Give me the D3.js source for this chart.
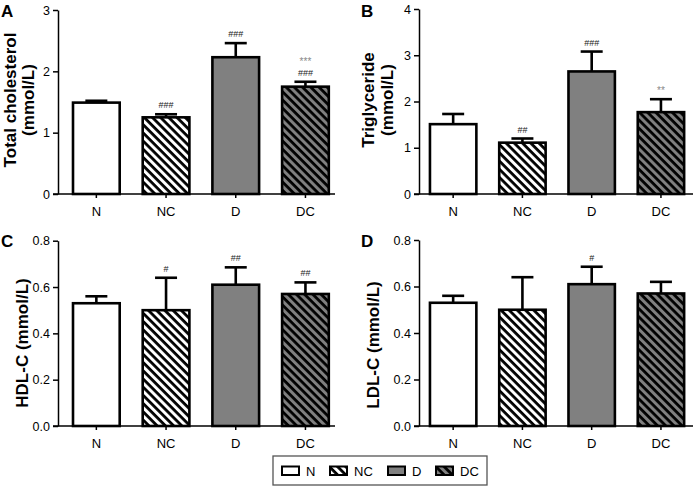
<!DOCTYPE html>
<html>
<head>
<meta charset="utf-8">
<script src="https://cdn.jsdelivr.net/npm/d3@7"></script>
<style>
  body { margin: 0; background: #fff; }
  svg { display: block; font-family: "Liberation Sans", Arial, sans-serif; }
</style>
</head>
<body>
<svg id="chart" width="698" height="486"></svg>
<script>
// ---------- data ----------
const categories = ["N", "NC", "D", "DC"];

const tcMean = [1.49, 1.25, 2.23, 1.75];
const tcErr  = [0.03, 0.05, 0.23, 0.08];
const tcHash = ["", "###", "###", "###"];
const tcStar = ["", "", "", "***"];
const tcTicks = [0, 1, 2, 3];

const tgMean = [1.51, 1.11, 2.65, 1.77];
const tgErr  = [0.22, 0.09, 0.43, 0.28];
const tgHash = ["", "##", "###", ""];
const tgStar = ["", "", "", "**"];
const tgTicks = [0, 1, 2, 3, 4];

const hdlMean = [0.53, 0.50, 0.61, 0.57];
const hdlErr  = [0.03, 0.14, 0.075, 0.05];
const hdlHash = ["", "#", "##", "##"];
const hdlStar = ["", "", "", ""];
const hdlTicks = [0, 0.2, 0.4, 0.6, 0.8];

const ldlMean = [0.53, 0.50, 0.61, 0.57];
const ldlErr  = [0.03, 0.14, 0.075, 0.05];
const ldlHash = ["", "", "#", ""];
const ldlStar = ["", "", "", ""];
const ldlTicks = [0, 0.2, 0.4, 0.6, 0.8];

// ---------- drawing ----------
const svg = d3.select("#chart");
const defs = svg.append("defs");

function hatch(id, bg) {
  const p = defs.append("pattern")
    .attr("id", id).attr("patternUnits", "userSpaceOnUse")
    .attr("width", 5.8).attr("height", 5.8)
    .attr("patternTransform", "rotate(-45)");
  p.append("rect").attr("width", 5.8).attr("height", 5.8).attr("fill", bg);
  p.append("line").attr("x1", 1.5).attr("y1", 0).attr("x2", 1.5).attr("y2", 5.8)
    .attr("stroke", "#000").attr("stroke-width", 2.8);
}
hatch("hatchW", "#fff");
hatch("hatchG", "#808080");

const fills = { N: "#ffffff", NC: "url(#hatchW)", D: "#808080", DC: "url(#hatchG)" };

const panels = [
  { letter: "A", title: ["Total cholesterol", "(mmol/L)"], mean: tcMean, err: tcErr, hash: tcHash, star: tcStar,
    ticks: tcTicks, fmt: d3.format("d"), max: 3, axisX: 58, yTop: 10, yBot: 194, xEnd: 335,
    band: [50, 351.8], letterX: 1, letterY: 17, titleX: [10, 28], titleY: 100 },
  { letter: "B", title: ["Triglyceride", "(mmol/L)"], mean: tgMean, err: tgErr, hash: tgHash, star: tgStar,
    ticks: tgTicks, fmt: d3.format("d"), max: 4, axisX: 419, yTop: 9, yBot: 194, xEnd: 693,
    band: [407.1, 707], letterX: 361, letterY: 17, titleX: [368, 387], titleY: 100 },
  { letter: "C", title: ["HDL-C (mmol/L)"], mean: hdlMean, err: hdlErr, hash: hdlHash, star: hdlStar,
    ticks: hdlTicks, fmt: d3.format(".1f"), max: 0.8, axisX: 58, yTop: 240.7, yBot: 426, xEnd: 335,
    band: [50, 351.8], letterX: 1, letterY: 247, titleX: [22], titleY: 343 },
  { letter: "D", title: ["LDL-C (mmol/L)"], mean: ldlMean, err: ldlErr, hash: ldlHash, star: ldlStar,
    ticks: ldlTicks, fmt: d3.format(".1f"), max: 0.8, axisX: 419, yTop: 240, yBot: 426, xEnd: 693,
    band: [407.1, 707], letterX: 361, letterY: 247, titleX: [373], titleY: 345 }
];

panels.forEach(p => {
  const g = svg.append("g");
  const y = d3.scaleLinear().domain([0, p.max]).range([p.yBot, p.yTop]);
  const x = d3.scaleBand().domain(categories).range(p.band).paddingInner(0.33).paddingOuter(0.33);

  // y axis
  const ya = g.append("g").attr("transform", `translate(${p.axisX},0)`)
    .call(d3.axisLeft(y).tickValues(p.ticks).tickFormat(p.fmt).tickSize(5).tickSizeOuter(0).tickPadding(3));
  ya.select(".domain").attr("stroke", "#000").attr("stroke-width", 1.5);
  ya.selectAll(".tick line").attr("stroke", "#000").attr("stroke-width", 1.5);
  ya.selectAll(".tick text").attr("font-size", 12.5).attr("fill", "#000")
    .attr("font-family", "Liberation Sans, Arial, sans-serif");

  // x axis
  const xa = g.append("g").attr("transform", `translate(0,${p.yBot})`)
    .call(d3.axisBottom(x).tickSize(4).tickPadding(9));
  xa.select(".domain").remove();
  xa.selectAll(".tick line").attr("stroke", "#000").attr("stroke-width", 1.5);
  xa.selectAll(".tick text").attr("font-size", 13).attr("fill", "#000")
    .attr("font-family", "Liberation Sans, Arial, sans-serif");
  g.append("line").attr("x1", p.axisX - 5).attr("x2", p.xEnd)
    .attr("y1", p.yBot).attr("y2", p.yBot).attr("stroke", "#000").attr("stroke-width", 1.5);

  // bars
  const rows = categories.map((c, i) => ({ c, m: p.mean[i], e: p.err[i], h: p.hash[i], s: p.star[i] }));
  g.selectAll("rect.bar").data(rows).enter().append("rect")
    .attr("class", "bar")
    .attr("x", d => x(d.c)).attr("width", x.bandwidth())
    .attr("y", d => y(d.m)).attr("height", d => p.yBot - y(d.m))
    .attr("fill", d => fills[d.c]).attr("stroke", "#000").attr("stroke-width", 2.6);

  // error bars
  const cx = d => x(d.c) + x.bandwidth() / 2;
  g.selectAll("line.err").data(rows).enter().append("line")
    .attr("x1", cx).attr("x2", cx).attr("y1", d => y(d.m)).attr("y2", d => y(d.m + d.e))
    .attr("stroke", "#000").attr("stroke-width", 2.6);
  g.selectAll("line.cap").data(rows).enter().append("line")
    .attr("x1", d => cx(d) - 11).attr("x2", d => cx(d) + 11)
    .attr("y1", d => y(d.m + d.e)).attr("y2", d => y(d.m + d.e))
    .attr("stroke", "#000").attr("stroke-width", 2.6);

  // significance marks
  g.selectAll("text.hash").data(rows.filter(d => d.h)).enter().append("text")
    .attr("x", cx).attr("y", d => y(d.m + d.e) - 6)
    .attr("text-anchor", "middle").attr("font-size", 9).attr("fill", "#222").text(d => d.h);
  g.selectAll("text.star").data(rows.filter(d => d.s)).enter().append("text")
    .attr("x", cx).attr("y", d => y(d.m + d.e) - (d.h ? 17 : 5))
    .attr("text-anchor", "middle").attr("font-size", 10).attr("fill", "#888").text(d => d.s);

  // y title
  p.title.forEach((t, i) => {
    g.append("text")
      .attr("transform", `translate(${p.titleX[i]},${p.titleY}) rotate(-90)`)
      .attr("text-anchor", "middle").attr("dominant-baseline", "central")
      .attr("font-size", 17).attr("font-weight", "bold").attr("fill", "#000").text(t);
  });

  // panel letter
  g.append("text").attr("x", p.letterX).attr("y", p.letterY)
    .attr("font-size", 17).attr("font-weight", "bold").attr("fill", "#000").text(p.letter);
});

// ---------- legend ----------
const leg = svg.append("g");
leg.append("rect").attr("x", 273).attr("y", 456).attr("width", 214).attr("height", 29)
  .attr("fill", "#fff").attr("stroke", "#555").attr("stroke-width", 1.3);
const legX = [282, 330, 388, 436];
categories.forEach((c, i) => {
  leg.append("rect").attr("x", legX[i]).attr("y", 466.5).attr("width", 17).attr("height", 8.5)
    .attr("fill", fills[c]).attr("stroke", "#000").attr("stroke-width", 2);
  leg.append("text").attr("x", legX[i] + 24).attr("y", 475.5)
    .attr("font-size", 13).attr("fill", "#000").text(c);
});
</script>
</body>
</html>
